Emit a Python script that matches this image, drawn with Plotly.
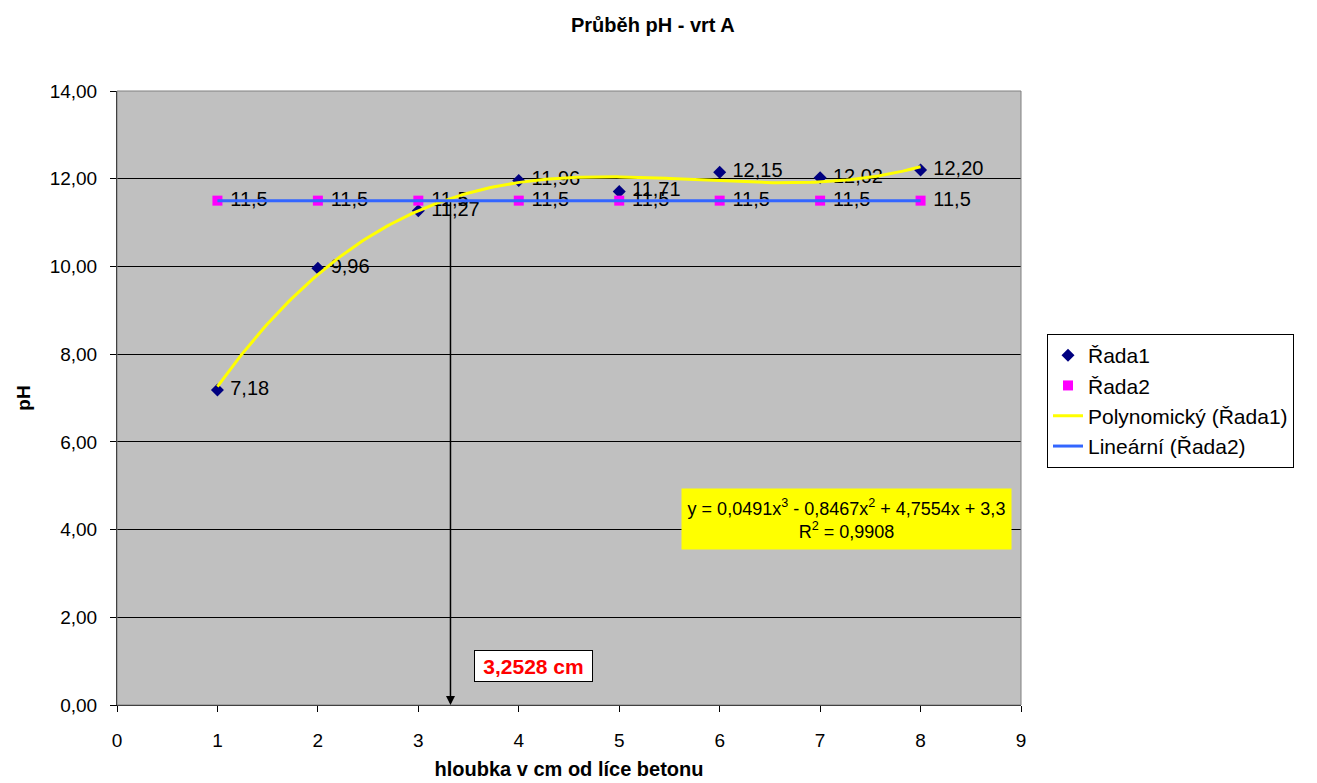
import numpy as np
import plotly.graph_objects as go

# ---- data ----
depth = [1, 2, 3, 4, 5, 6, 7, 8]
rada1 = [7.18, 9.96, 11.27, 11.96, 11.71, 12.15, 12.02, 12.20]
rada1_labels = ["7,18", "9,96", "11,27", "11,96", "11,71", "12,15", "12,02", "12,20"]
rada2 = [11.5, 11.5, 11.5, 11.5, 11.5, 11.5, 11.5, 11.5]
rada2_labels = ["11,5"] * 8
x_ticks = [0, 1, 2, 3, 4, 5, 6, 7, 8, 9]
y_ticks = [0, 2, 4, 6, 8, 10, 12, 14]
y_tick_labels = ["0,00", "2,00", "4,00", "6,00", "8,00", "10,00", "12,00", "14,00"]
arrow_x = 3.32
arrow_top = 11.5
equation_text = "y = 0,0491x<sup>3</sup> - 0,8467x<sup>2</sup> + 4,7554x + 3,3<br>R<sup>2</sup> = 0,9908"
result_text = "<b>3,2528 cm</b>"

# trendlines fitted from the data
coef3 = np.polyfit(depth, rada1, 3)
xs = np.linspace(min(depth), max(depth), 200)
poly_y = np.polyval(coef3, xs)
coef1 = np.polyfit(depth, rada2, 1)
lin_y = np.polyval(coef1, xs)

FONT = "Liberation Sans, Arial, sans-serif"

# plot area in pixels
L, R, T, B = 117, 1021, 91, 705
W, H = 1317, 783
PW, PH = R - L, B - T

fig = go.Figure()
fig.add_trace(go.Scatter(
    x=depth, y=rada1, mode="markers+text", name="Řada1",
    marker=dict(symbol="diamond", size=10, color="#000080"),
    text=[" " + t for t in rada1_labels], textposition="middle right",
    textfont=dict(size=20, color="black", family=FONT), cliponaxis=False))
fig.add_trace(go.Scatter(
    x=depth, y=rada2, mode="markers+text", name="Řada2",
    marker=dict(symbol="square", size=10, color="#FF00FF"),
    text=[" " + t for t in rada2_labels], textposition="middle right",
    textfont=dict(size=20, color="black", family=FONT), cliponaxis=False))
fig.add_trace(go.Scatter(
    x=xs, y=poly_y, mode="lines", name="Polynomický (Řada1)",
    line=dict(color="#FFFF00", width=3)))
fig.add_trace(go.Scatter(
    x=xs, y=lin_y, mode="lines", name="Lineární (Řada2)",
    line=dict(color="#3366FF", width=3)))

# arrow
fig.add_annotation(x=arrow_x, y=0, ax=arrow_x, ay=arrow_top, xref="x", yref="y",
                   axref="x", ayref="y", showarrow=True, arrowhead=2,
                   arrowsize=1.2, arrowwidth=1.5, arrowcolor="black", text="")
# equation box (pixel placement converted below)
fig.add_annotation(x=(682 + 1011) / 2, y=(489 + 549) / 2, xref="x", yref="y",
                   text=equation_text, showarrow=False, bgcolor="#FFFF00",
                   borderpad=0, width=329, height=60,
                   font=dict(size=18, color="black", family=FONT), align="center")
# result box
fig.add_annotation(x=(474 + 593) / 2, y=(650 + 682) / 2, xref="x", yref="y",
                   text=result_text, showarrow=False, bgcolor="white",
                   bordercolor="black", borderwidth=1, borderpad=0,
                   width=117, height=30,
                   font=dict(size=21, color="#FF0000", family=FONT))
# title
fig.add_annotation(x=653, y=25, xref="paper", yref="paper",
                   xanchor="center", yanchor="middle",
                   text="<b>Průběh pH - vrt A</b>", showarrow=False,
                   font=dict(size=20, color="black", family=FONT))

anns = fig.layout.annotations
for a in anns[1:3]:
    px, py = a.x, a.y
    a.update(x=(px - L) / PW * 9, y=(B - py) / PH * 14)
anns[3].update(x=(653 - L) / PW, y=(B - 25) / PH)

fig.update_layout(
    width=W, height=H,
    margin=dict(l=L, r=W - R, t=T, b=H - B, autoexpand=False),
    paper_bgcolor="white", plot_bgcolor="#C0C0C0",
    font=dict(family=FONT, color="black"),
    showlegend=True,
    legend=dict(x=(1047 - L) / PW, y=(B - 334) / PH, xanchor="left", yanchor="top",
                bgcolor="white", bordercolor="black", borderwidth=1,
                font=dict(size=21, color="black", family=FONT),
                tracegroupgap=0, itemwidth=30),
    shapes=[dict(type="rect", xref="paper", yref="paper", x0=0, y0=0, x1=1, y1=1,
                 line=dict(color="#808080", width=1), layer="above")],
)

fig.update_xaxes(range=[0, 9], tickvals=x_ticks, ticktext=[str(t) for t in x_ticks],
                 automargin=False,
                 showgrid=False, zeroline=False, showline=True, linecolor="black",
                 linewidth=1, ticks="outside", ticklen=6, tickcolor="black",
                 ticklabelstandoff=12,
                 tickfont=dict(size=19, family=FONT),
                 title=dict(text="<b>hloubka v cm od líce betonu</b>",
                            font=dict(size=20, family=FONT), standoff=12))
fig.update_yaxes(range=[0, 14], tickvals=y_ticks, ticktext=y_tick_labels,
                 automargin=False,
                 showgrid=True, gridcolor="black", gridwidth=1, zeroline=False,
                 showline=True, linecolor="black", linewidth=1,
                 ticks="outside", ticklen=6, tickcolor="black",
                 ticklabelstandoff=9,
                 tickfont=dict(size=19, family=FONT),
                 title=dict(text="<b>pH</b>", font=dict(size=19, family=FONT), standoff=14))

fig.write_html("out.html")
